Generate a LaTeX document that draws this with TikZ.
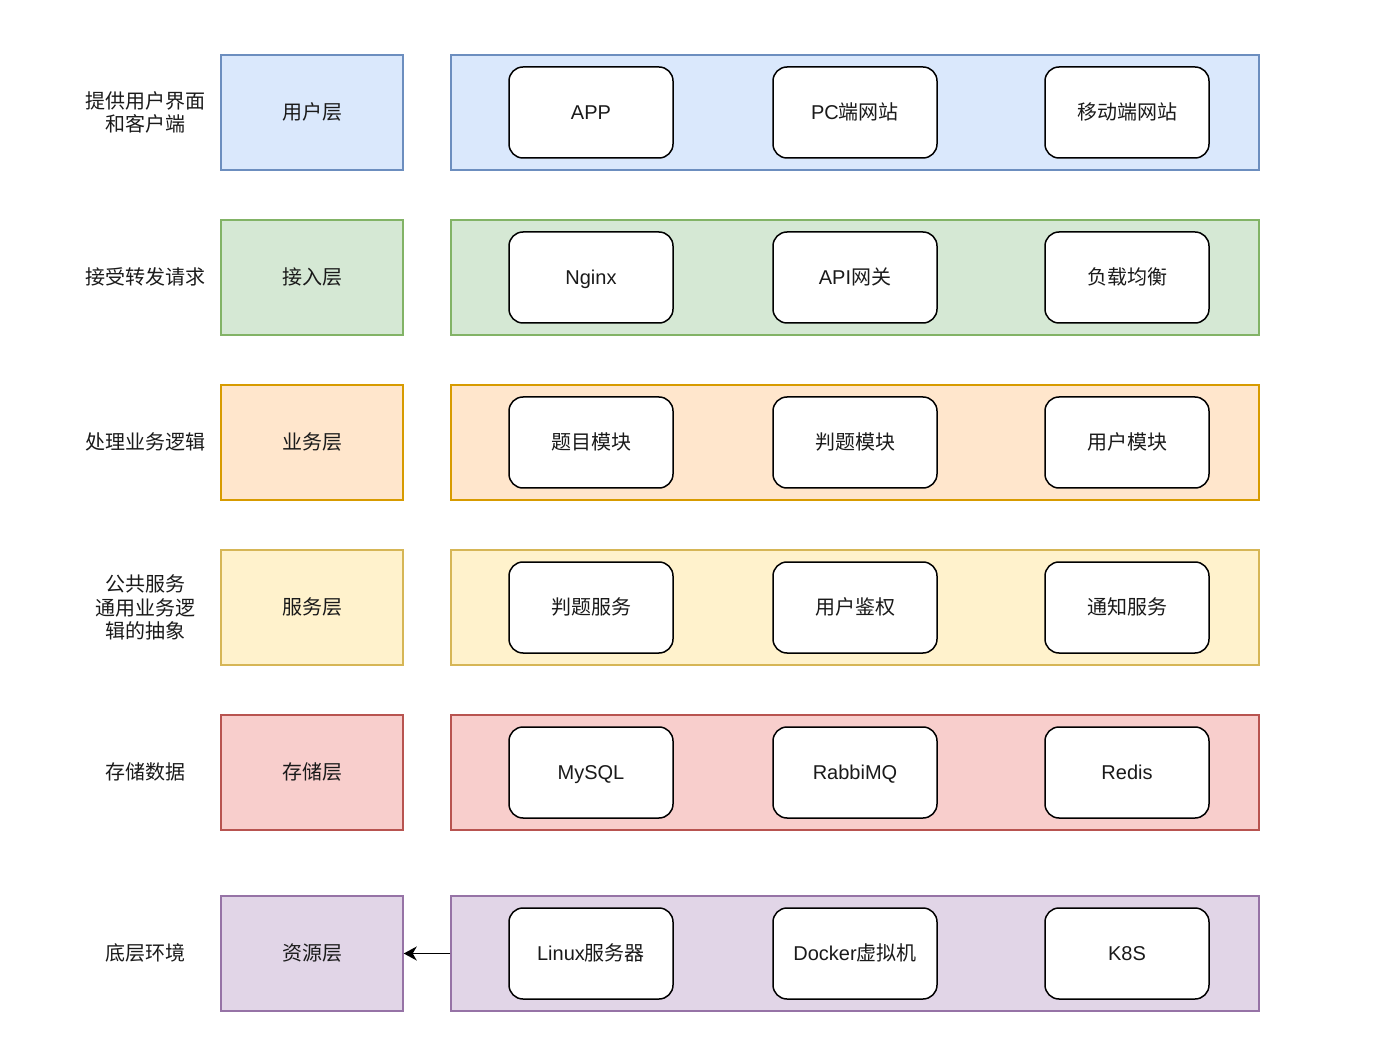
\documentclass[tikz,border=0pt]{standalone}
\usepackage{fontspec}
\setmainfont{Liberation Sans}
\newfontfamily\cjk{Noto Sans CJK SC}
\usetikzlibrary{arrows.meta}
\definecolor{bF}{HTML}{DAE8FC}\definecolor{bD}{HTML}{6C8EBF}
\definecolor{gF}{HTML}{D5E8D4}\definecolor{gD}{HTML}{82B366}
\definecolor{oF}{HTML}{FFE6CC}\definecolor{oD}{HTML}{D79B00}
\definecolor{yF}{HTML}{FFF2CC}\definecolor{yD}{HTML}{D6B656}
\definecolor{rF}{HTML}{F8CECC}\definecolor{rD}{HTML}{B85450}
\definecolor{pF}{HTML}{E1D5E7}\definecolor{pD}{HTML}{9673A6}
\definecolor{txt}{HTML}{1A1A1A}
\begin{document}
\begin{tikzpicture}[x=1pt,y=-1pt,
  every node/.style={font=\fontsize{20}{23.5}\selectfont, text=txt},
  layerbox/.style={draw=#1D, fill=#1F, line width=1.5pt, minimum width=182pt, minimum height=115pt, inner sep=0pt},
  bigbox/.style={draw=#1D, fill=#1F, line width=1.5pt, minimum width=808pt, minimum height=115pt, inner sep=0pt},
  itembox/.style={draw=black, fill=white, line width=1.5pt, rounded corners=14pt, minimum width=164pt, minimum height=91pt, inner sep=0pt, text height=17pt, text depth=2.5pt},
  lbl/.style={inner sep=0pt, text height=17pt, text depth=2.5pt},
  desc/.style={align=center, inner sep=0pt}
]
\useasboundingbox (0,0) rectangle (1393,1040);
\foreach \c/\y/\n in {b/112.5/1, g/277.5/2, o/442.5/3, y/607.5/4, r/772.5/5, p/953.5/6}{
  \node[layerbox=\c] (L\n) at (312,\y) {};
  \node[bigbox=\c] (B\n) at (855,\y) {};
}
% layer labels
\node[lbl] at (L1) {\cjk 用户层};
\node[lbl] at (L2) {\cjk 接入层};
\node[lbl] at (L3) {\cjk 业务层};
\node[lbl] at (L4) {\cjk 服务层};
\node[lbl] at (L5) {\cjk 存储层};
\node[lbl] at (L6) {\cjk 资源层};
% descriptions
\node[desc] (D1) at (145,112.5) {\cjk 提供用户界面\\\cjk 和客户端};
\node[lbl] (D2) at (145,277.5) {\cjk 接受转发请求};
\node[lbl] (D3) at (145,442.5) {\cjk 处理业务逻辑};
\node[desc] (D4) at (145,607.5) {\cjk 公共服务\\\cjk 通用业务逻\\\cjk 辑的抽象};
\node[lbl] (D5) at (145,772.5) {\cjk 存储数据};
\node[lbl] (D6) at (145,953.5) {\cjk 底层环境};
% items
\node[itembox] (A1) at (591,112.5) {APP};
\node[itembox] (A2) at (855,112.5) {PC{\cjk 端网站}};
\node[itembox] (A3) at (1127,112.5) {\cjk 移动端网站};
\node[itembox] (N1) at (591,277.5) {Nginx};
\node[itembox] (N2) at (855,277.5) {API{\cjk 网关}};
\node[itembox] (N3) at (1127,277.5) {\cjk 负载均衡};
\node[itembox] (S1) at (591,442.5) {\cjk 题目模块};
\node[itembox] (S2) at (855,442.5) {\cjk 判题模块};
\node[itembox] (S3) at (1127,442.5) {\cjk 用户模块};
\node[itembox] (V1) at (591,607.5) {\cjk 判题服务};
\node[itembox] (V2) at (855,607.5) {\cjk 用户鉴权};
\node[itembox] (V3) at (1127,607.5) {\cjk 通知服务};
\node[itembox] (M1) at (591,772.5) {MySQL};
\node[itembox] (M2) at (855,772.5) {RabbiMQ};
\node[itembox] (M3) at (1127,772.5) {Redis};
\node[itembox] (R1) at (591,953.5) {Linux{\cjk 服务器}};
\node[itembox] (R2) at (855,953.5) {Docker{\cjk 虚拟机}};
\node[itembox] (R3) at (1127,953.5) {K8S};
% arrow
\draw[line width=1.5pt, -{Stealth[length=13pt,width=14pt,inset=4pt]}] (B6.west) -- (L6.east);
\end{tikzpicture}
\end{document}
